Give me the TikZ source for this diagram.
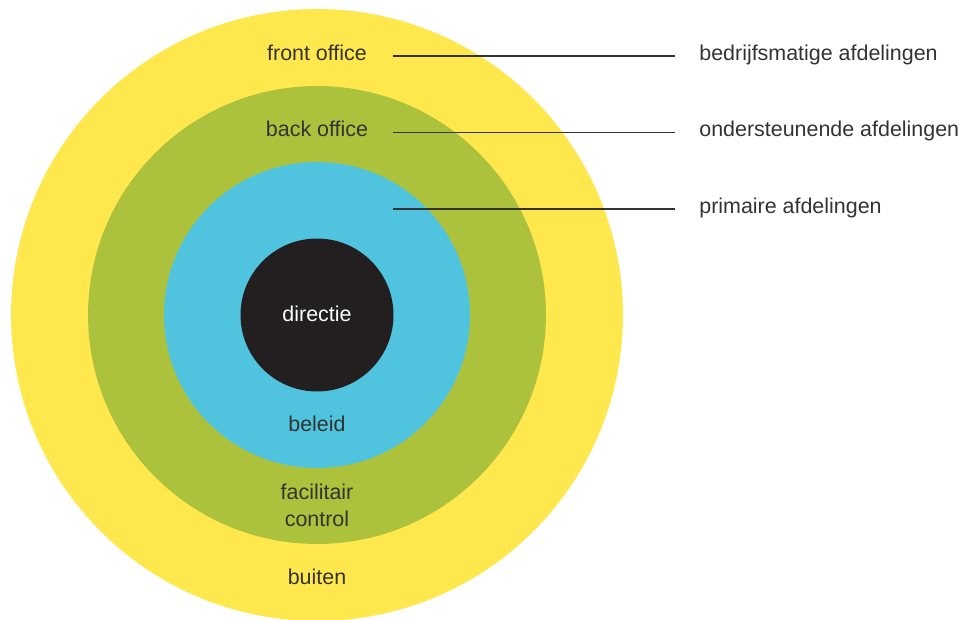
\documentclass[tikz,border=0pt]{standalone}
\usepackage{fontspec}
\setmainfont{Liberation Sans}
\usepackage{xcolor}
\usetikzlibrary{positioning}
\definecolor{ringyellow}{HTML}{FFE84D}
\definecolor{ringgreen}{HTML}{ADC23C}
\definecolor{ringblue}{HTML}{50C4DE}
\definecolor{ringblack}{HTML}{231F20}
\definecolor{labelgray}{HTML}{333333}
\tikzset{
ring/.style={circle, inner sep=0pt, outer sep=0pt, draw=none},
lbl/.style={font=\fontsize{12.2}{15.3}\selectfont, text=labelgray, inner sep=0pt, align=center},
side/.style={lbl, anchor=west},
rule/.style={draw=labelgray, line width=0.7pt, shorten >=0.48cm},
}
\begin{document}
\begin{tikzpicture}[x=0.02cm,y=-0.02cm]
\useasboundingbox (0,0) rectangle (963,619);
% the rings
\node (outer) [ring, fill=ringyellow, minimum size=12.24cm] at (317,315) {};
\node (middle) [ring, fill=ringgreen, minimum size=9.16cm] at (outer.center) {};
\node (inner) [ring, fill=ringblue, minimum size=6.12cm] at (outer.center) {};
\node (core) [ring, fill=ringblack, minimum size=3.06cm] at (outer.center) {};
% the ring labels
\node (front) [lbl] at (317,53) {front office};
\node (back) [lbl] at (317,129) {back office};
\node (dir) [lbl, text=white] at (317,314) {directie};
\node (beleid) [lbl] at (317,424) {beleid};
\node (facil) [lbl] at (317,505) {facilitair\\control};
\node (buiten) [lbl] at (317,577) {buiten};
% the side labels
\node (bedr) [side] at (699,55) {bedrijfsmatige afdelingen};
\node (onder) [side] at (699,131) {ondersteunende afdelingen};
\node (prim) [side] at (699,208) {primaire afdelingen};
% the rules
\coordinate (from-bedr) at (393,56);
\coordinate (from-onder) at (393,132.5);
\coordinate (from-prim) at (393,209);
\foreach \n in {bedr,onder,prim}
{
  \draw[rule] (from-\n) -- (\n.west |- from-\n);
}
\end{tikzpicture}
\end{document}
